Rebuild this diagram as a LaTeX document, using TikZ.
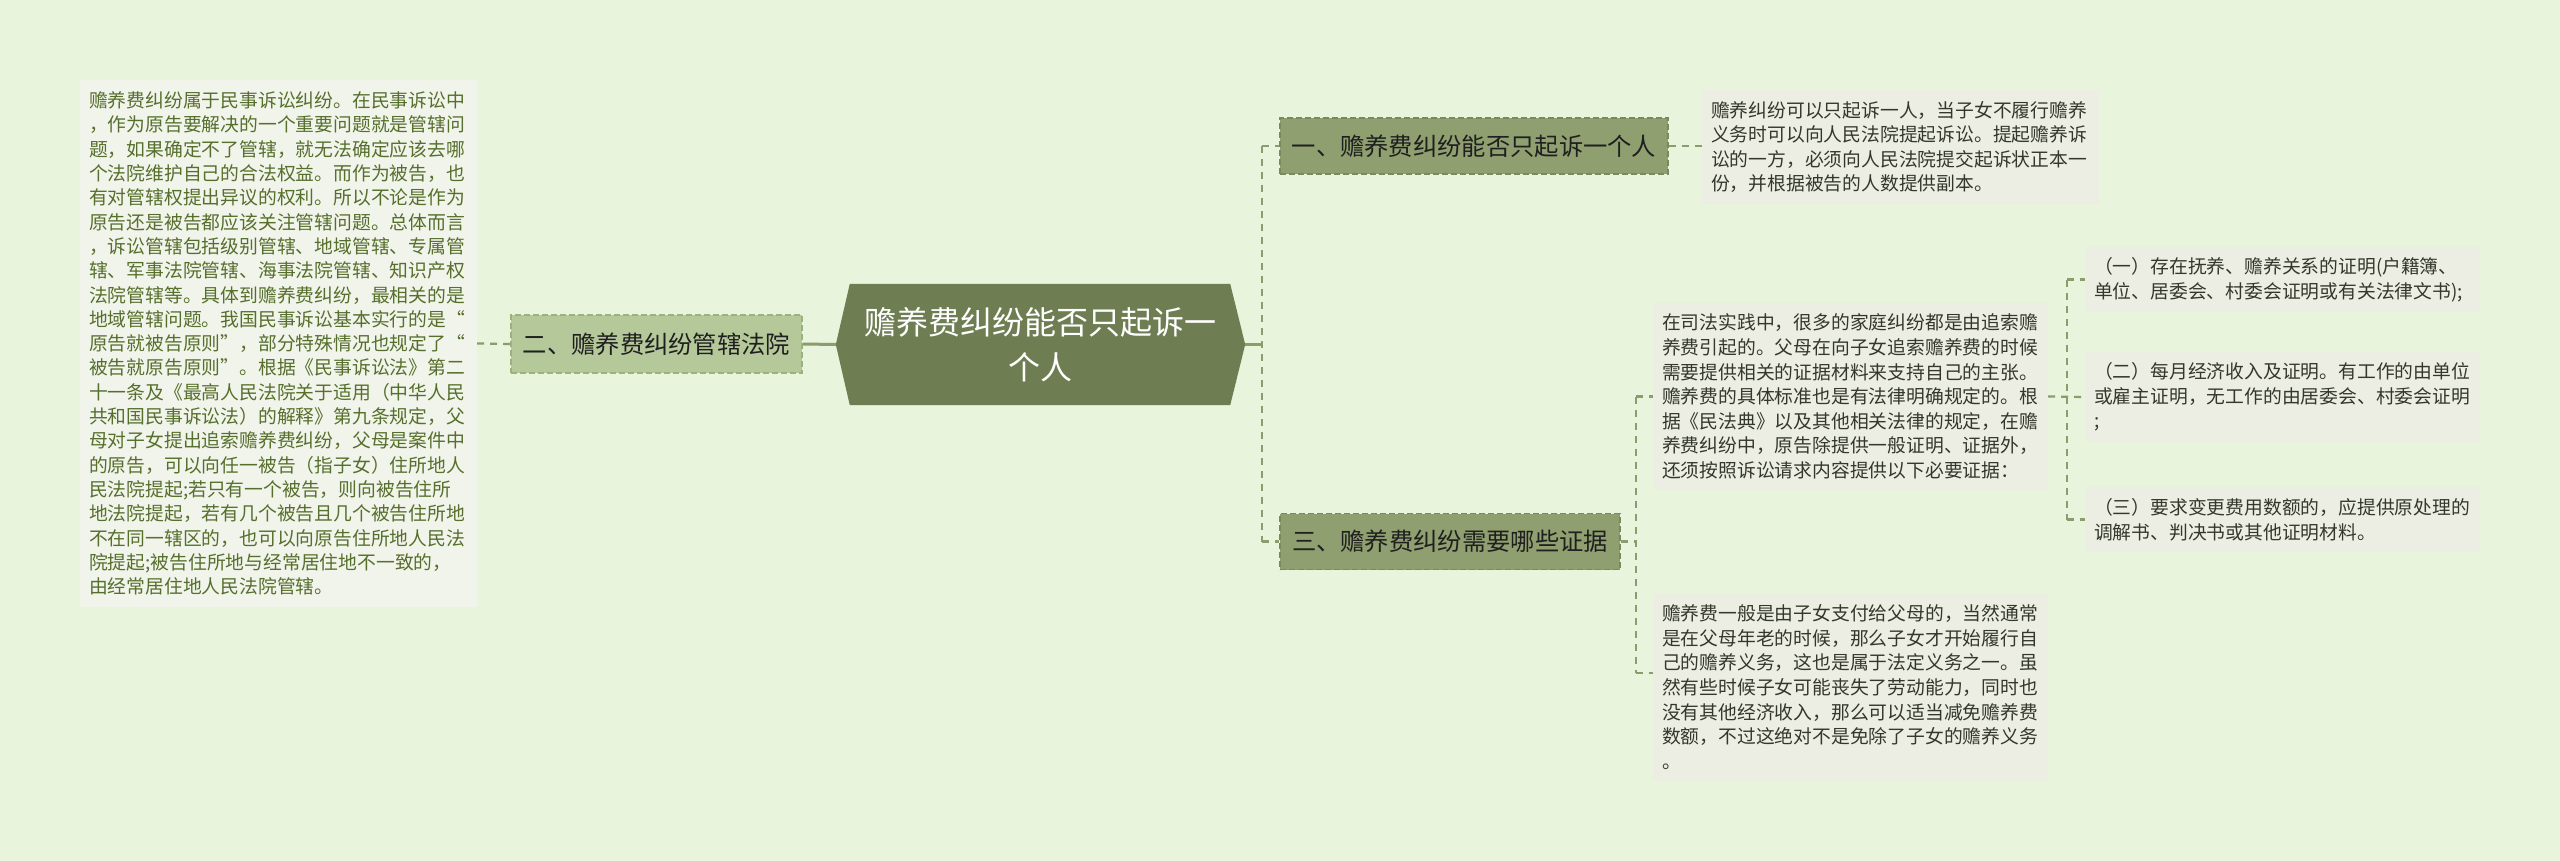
\documentclass[tikz,border=0pt]{standalone}
\usepackage{fontspec}
\setmainfont{Noto Sans CJK SC}
\usetikzlibrary{backgrounds}
\pgfdeclarelayer{back}
\pgfsetlayers{back,background,main}
\definecolor{bgc}{HTML}{E8F4DC}
\definecolor{leftbox}{HTML}{F1F4EA}
\definecolor{boxc}{HTML}{ECEEE4}
\definecolor{lefttxt}{HTML}{566F2C}
\definecolor{boxtxt}{HTML}{34382A}
\definecolor{rootc}{HTML}{6E7E52}
\definecolor{topicc}{HTML}{8F9F6F}
\definecolor{topicb}{HTML}{7A8A5C}
\definecolor{subc}{HTML}{B5C89A}
\definecolor{subb}{HTML}{9CB17E}
\definecolor{linec}{HTML}{8C9C6C}
\tikzset{
  txtbox/.style={fill=boxc, text=boxtxt, align=left, inner xsep=9pt, inner ysep=4pt,
    font=\fontsize{18.8}{24.6}\selectfont},
  topicbox/.style={fill=topicc, draw=topicb, dash pattern=on 6pt off 3pt, line width=1.6pt,
    text=black!88, font=\fontsize{24.3}{30}\selectfont, inner xsep=10pt, minimum height=56pt},
  subbox/.style={topicbox, fill=subc, draw=subb},
  roottext/.style={text=white, align=center, font=\fontsize{32}{45}\selectfont,
    minimum width=409pt, minimum height=121pt, inner sep=0pt},
  conn/.style={draw=linec, line width=2.2pt, dash pattern=on 7pt off 6pt},
  solidconn/.style={draw=linec, line width=3pt}
}
\begin{document}
\begin{tikzpicture}[x=1pt,y=-1pt]
\begin{pgfonlayer}{back}
\fill[bgc] (0,0) rectangle (2560,861);
\end{pgfonlayer}
\useasboundingbox (0,0) rectangle (2560,861);

% root
\node[roottext] (root) at (1040.5,344.5) {赡养费纠纷能否只起诉一\\个人};
\begin{pgfonlayer}{background}
\fill[rootc] (root.west) -- ([xshift=14pt]root.north west) -- ([xshift=-15pt]root.north east)
  -- (root.east) -- ([xshift=-15pt]root.south east) -- ([xshift=14pt]root.south west) -- cycle;
\end{pgfonlayer}

% topics
\node[topicbox, minimum width=388pt] (n1) at (1474,146) {一、赡养费纠纷能否只起诉一个人};
\node[topicbox, minimum width=340pt] (n3) at (1450,541.5) {三、赡养费纠纷需要哪些证据};
\node[subbox, minimum width=291pt, minimum height=58pt] (n2) at (656.5,344) {二、赡养费纠纷管辖法院};

% left text box
\node[txtbox, fill=leftbox, text=lefttxt, text width=379pt, minimum height=527pt,
  font=\fontsize{18.8}{24.3}\selectfont] (lbox) at (278.5,343.5) {赡养费纠纷属于民事诉讼纠纷。在民事诉讼中\\
，作为原告要解决的一个重要问题就是管辖问\\
题，如果确定不了管辖，就无法确定应该去哪\\
个法院维护自己的合法权益。而作为被告，也\\
有对管辖权提出异议的权利。所以不论是作为\\
原告还是被告都应该关注管辖问题。总体而言\\
，诉讼管辖包括级别管辖、地域管辖、专属管\\
辖、军事法院管辖、海事法院管辖、知识产权\\
法院管辖等。具体到赡养费纠纷，最相关的是\\
地域管辖问题。我国民事诉讼基本实行的是“\\
原告就被告原则”，部分特殊情况也规定了“\\
被告就原告原则”。根据《民事诉讼法》第二\\
十一条及《最高人民法院关于适用（中华人民\\
共和国民事诉讼法）的解释》第九条规定，父\\
母对子女提出追索赡养费纠纷，父母是案件中\\
的原告，可以向任一被告（指子女）住所地人\\
民法院提起;若只有一个被告，则向被告住所\\
地法院提起，若有几个被告且几个被告住所地\\
不在同一辖区的，也可以向原告住所地人民法\\
院提起;被告住所地与经常居住地不一致的，\\
由经常居住地人民法院管辖。};

% text for topic 1
\node[txtbox, text width=379pt, minimum height=114pt] (b1) at (1900.5,147) {赡养纠纷可以只起诉一人，当子女不履行赡养\\
义务时可以向人民法院提起诉讼。提起赡养诉\\
讼的一方，必须向人民法院提交起诉状正本一\\
份，并根据被告的人数提供副本。};

% texts for topic 3
\node[txtbox, text width=377pt, minimum height=187pt] (mid) at (1850.5,396.5) {在司法实践中，很多的家庭纠纷都是由追索赡\\
养费引起的。父母在向子女追索赡养费的时候\\
需要提供相关的证据材料来支持自己的主张。\\
赡养费的具体标准也是有法律明确规定的。根\\
据《民法典》以及其他相关法律的规定，在赡\\
养费纠纷中，原告除提供一般证明、证据外，\\
还须按照诉讼请求内容提供以下必要证据：};
\node[txtbox, text width=377pt, minimum height=188pt] (bot) at (1850.5,687) {赡养费一般是由子女支付给父母的，当然通常\\
是在父母年老的时候，那么子女才开始履行自\\
己的赡养义务，这也是属于法定义务之一。虽\\
然有些时候子女可能丧失了劳动能力，同时也\\
没有其他经济收入，那么可以适当减免赡养费\\
数额，不过这绝对不是免除了子女的赡养义务\\
。};

% evidence items
\node[txtbox, text width=377pt, minimum height=65pt] (r1) at (2282.5,279.5) {（一）存在抚养、赡养关系的证明(户籍簿、\\
单位、居委会、村委会证明或有关法律文书);};
\node[txtbox, text width=377pt, minimum height=90pt] (r2) at (2282.5,397) {（二）每月经济收入及证明。有工作的由单位\\
或雇主证明，无工作的由居委会、村委会证明\\
;};
\node[txtbox, text width=377pt, minimum height=65pt] (r3) at (2282.5,519.5) {（三）要求变更费用数额的，应提供原处理的\\
调解书、判决书或其他证明材料。};

% connector junctions
\coordinate (v1) at (1262,345);
\coordinate (v2) at (1636,542);
\coordinate (v3) at (2067,406);
\coordinate (bt) at ([yshift=14pt]bot.west);

% root to the right branch
\draw[solidconn] (root.east) -- (root.east -| v1);
\draw[conn] (n1.west -| v1) -- (n3.west -| v1);
\draw[conn] (n1.west -| v1) -- (n1.west);
\draw[conn] (n3.west -| v1) -- (n3.west);
\draw[conn] (n1.east) -- (n1.east -| b1.west);

% topic 3 branch
\draw[conn] (n3.east) -- (n3.east -| v2);
\draw[conn] (mid.west -| v2) -- (bt -| v2);
\draw[conn] (mid.west -| v2) -- (mid.west);
\draw[conn] (bt -| v2) -- (bt);

% evidence bracket
\draw[conn] (mid.east) -- (r2.west);
\draw[conn] (r1.west -| v3) -- (r3.west -| v3);
\draw[conn] (r1.west -| v3) -- (r1.west);
\draw[conn] (r3.west -| v3) -- (r3.west);

% left branch
\draw[solidconn] (root.west) -- (n2.east);
\draw[conn] (n2.west) -- (lbox.east);
\end{tikzpicture}
\end{document}
